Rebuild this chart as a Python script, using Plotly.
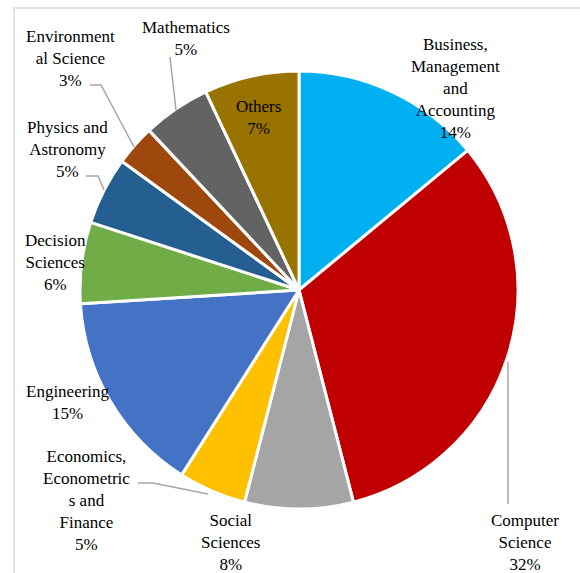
import plotly.graph_objects as go

W, H = 580, 573

# Subject areas, clockwise from 12 o'clock
categories = [
    "Business, Management and Accounting",
    "Computer Science",
    "Social Sciences",
    "Economics, Econometrics and Finance",
    "Engineering",
    "Decision Sciences",
    "Physics and Astronomy",
    "Environmental Science",
    "Mathematics",
    "Others",
]
shares = [14, 32, 8, 5, 15, 6, 5, 3, 5, 7]

# Wrapped label text as shown beside each slice
label_lines = [
    "Business,<br>Management<br>and<br>Accounting",
    "Computer<br>Science",
    "Social<br>Sciences",
    "Economics,<br>Econometric<br>s and<br>Finance",
    "Engineering",
    "Decision<br>Sciences",
    "Physics and<br>Astronomy",
    "Environment<br>al Science",
    "Mathematics",
    "Others",
]

colors = ["#00B0F0", "#C00000", "#A5A5A5", "#FFC000", "#4472C4",
          "#70AD47", "#255E91", "#9E480E", "#636363", "#997300"]

# Label block centres in pixels (x, y from top)
label_pos = [(455, 89), (525, 542), (230, 542), (86, 500), (68, 403),
             (55, 262), (67, 150), (70, 58), (186, 38), (258, 117)]

# Leader line polylines in pixels
leaders = [
    [(170, 57), (176, 110)],
    [(90, 85), (101, 85), (134, 147)],
    [(86, 176), (98, 176), (104, 190)],
    [(138, 483), (153, 483), (208, 494)],
    [(508, 362), (508, 504)],
]

FONT = "Liberation Serif"


def px(x, y):
    return x / W, 1 - y / H


cx, cy, r = 299, 290, 219

fig = go.Figure(go.Pie(
    labels=categories,
    values=shares,
    sort=False,
    direction="clockwise",
    rotation=0,
    marker=dict(colors=colors, line=dict(color="white", width=3)),
    textinfo="none",
    hoverinfo="label+percent",
    showlegend=False,
    domain=dict(x=[(cx - r) / W, (cx + r) / W],
                y=[(H - cy - r) / H, (H - cy + r) / H]),
))

annotations = []
for text, v, (x, y) in zip(label_lines, shares, label_pos):
    ax, ay = px(x, y)
    annotations.append(dict(
        x=ax, y=ay, xref="paper", yref="paper",
        text=f"{text}<br>{v}%", showarrow=False,
        xanchor="center", yanchor="middle", align="center",
        font=dict(family=FONT, size=17, color="#000000"),
    ))

shapes = []
for pts in leaders:
    path = "M " + " L ".join(f"{px(x, y)[0]:.5f},{px(x, y)[1]:.5f}" for x, y in pts)
    shapes.append(dict(type="path", xref="paper", yref="paper", path=path,
                       line=dict(color="#A6A6A6", width=1.5)))

# Chart-area frame (runs off the right and bottom edges)
shapes.append(dict(type="rect", xref="paper", yref="paper",
                   x0=14 / W, x1=1.2, y0=-0.2, y1=1 - 8 / H,
                   line=dict(color="#D9D9D9", width=1.5), layer="below"))

fig.update_layout(
    width=W, height=H,
    margin=dict(l=0, r=0, t=0, b=0),
    paper_bgcolor="white",
    plot_bgcolor="white",
    font=dict(family=FONT),
    annotations=annotations,
    shapes=shapes,
)

fig.write_html("out.html")
